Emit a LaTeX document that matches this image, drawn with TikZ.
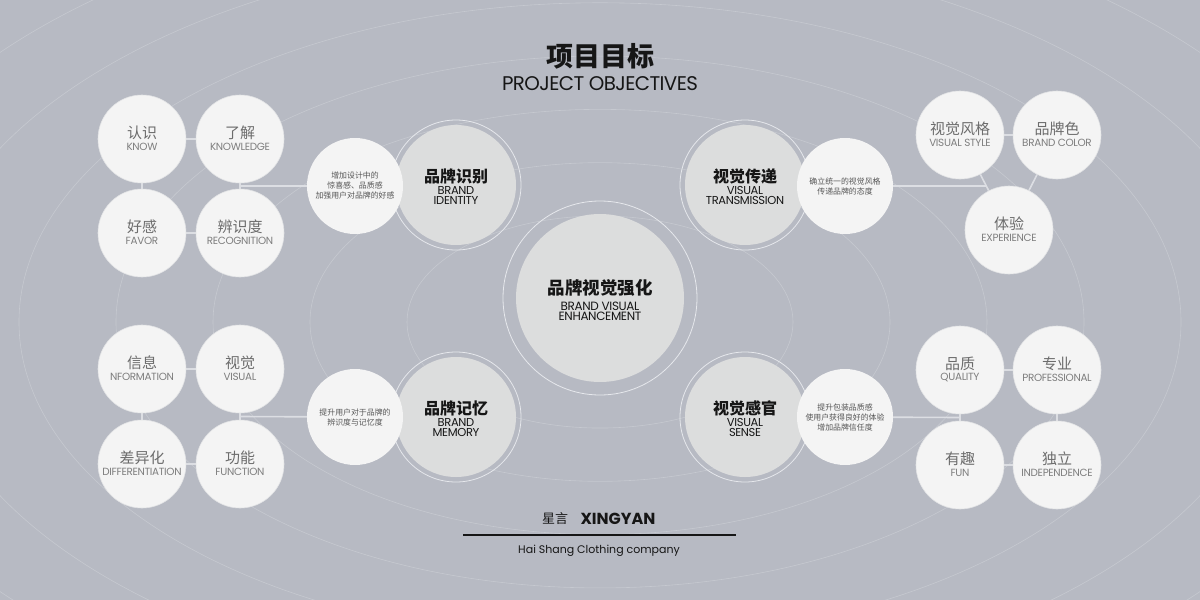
\documentclass[tikz,border=0pt]{standalone}
\usepackage{fontspec}
\setmainfont{Poppins}
\newfontfamily\cjk{Noto Sans CJK SC}
\newfontfamily\lat[LetterSpace=-3]{Poppins}
\usetikzlibrary{calc}
\definecolor{bgc}{HTML}{B7BAC3}
\definecolor{ellc}{HTML}{C6C9D0}
\definecolor{connc}{HTML}{DCDEE3}
\definecolor{smallfill}{HTML}{F4F4F4}
\definecolor{smalledge}{HTML}{E2E3E5}
\definecolor{bigfill}{HTML}{DCDDDD}
\definecolor{ringc}{HTML}{E6E8EC}
\definecolor{zhgray}{HTML}{6C6C6C}
\definecolor{engray}{HTML}{7E7E7E}
\definecolor{txtgray}{HTML}{555555}
\definecolor{dark}{HTML}{161616}
\pgfdeclarelayer{ellip}
\pgfdeclarelayer{links}
\pgfsetlayers{ellip,links,main}
\newcommand\scirc[5]{%
  \node[small] (#1) at (#2,#3) {};
  \node[zhs] (#1-zh) at ([yshift=6pt]#1.center) {#4};
  \node[ens] (#1-en) at ([yshift=-8pt]#1.center) {#5};}
\newcommand\bcirc[5]{%
  \node[big] (#1) at (#2,#3) {};
  \node[zhb] (#1-zh) at ([yshift=9pt]#1.center) {#4};
  \node[enb] (#1-en) at ([yshift=-10.5pt]#1.center) {#5};}
\begin{document}
\begin{tikzpicture}[x=1pt,y=-1pt,
  ell/.style={draw=ellc,line width=0.6pt},
  conn/.style={draw=connc,line width=1.6pt},
  small/.style={circle,fill=smallfill,draw=smalledge,line width=0.6pt,minimum size=88pt,inner sep=0pt},
  big/.style={circle,fill=bigfill,minimum size=120pt,inner sep=0pt},
  ringline/.style={draw=ringc,line width=0.8pt},
  txt/.style={circle,fill=smallfill,minimum size=96pt,inner sep=0pt,align=center,text=txtgray,font=\cjk\fontsize{7.9}{10}\selectfont},
  zhs/.style={inner sep=0pt,text=zhgray,font=\cjk\fontsize{15}{15}\selectfont},
  ens/.style={inner sep=0pt,text=engray,font=\lat\fontsize{10.4}{10.4}\selectfont},
  zhb/.style={inner sep=0pt,text=dark,font=\cjk\bfseries\fontsize{16}{16}\selectfont},
  enb/.style={inner sep=0pt,text=dark,align=center,font=\lat\fontsize{11.5}{9.5}\selectfont},
]
\useasboundingbox (0,0) rectangle (1200,600);
\begin{pgfonlayer}{ellip}
  \fill[bgc] (0,0) rectangle (1200,600);
  \begin{scope}
    \clip (0,0) rectangle (1200,600);
    \foreach \a in {193,290,387,484,581,678,775}{
      \pgfmathsetmacro\bb{\a/1.82}
      \draw[ell] (600,322) ellipse [x radius=\a pt, y radius=\bb pt];
    }
  \end{scope}
\end{pgfonlayer}

% title
\node[inner sep=0pt,text=dark,font=\cjk\bfseries\fontsize{27}{27}\selectfont] (title-zh) at (600,56) {项目目标};
\node[inner sep=0pt,text=dark,font=\lat\fontsize{19.8}{19.8}\selectfont] (title-en) at (600,84) {PROJECT OBJECTIVES};

% center
\node[circle,fill=bigfill,minimum size=168pt,inner sep=0pt] (center) at (600,298) {};
\draw[ringline] (center) circle[radius=97pt];
\node[inner sep=0pt,text=dark,font=\cjk\bfseries\fontsize{17.5}{17.5}\selectfont] (center-zh) at (600,288) {品牌视觉强化};
\node[inner sep=0pt,text=dark,align=center,font=\lat\fontsize{12}{10}\selectfont] (center-en) at (600,311) {BRAND VISUAL\\ENHANCEMENT};

% big circles
\bcirc{bi}{456}{185}{品牌识别}{BRAND\\IDENTITY}
\bcirc{vt}{745}{185}{视觉传递}{VISUAL\\TRANSMISSION}
\bcirc{bm}{456}{417}{品牌记忆}{BRAND\\MEMORY}
\bcirc{vs}{745}{417}{视觉感官}{VISUAL\\SENSE}
\foreach \n in {bi,vt,bm,vs}{\draw[ringline] (\n) circle[radius=65pt];}

% text circles
\node[txt] (t1) at (355,186) {增加设计中的\\惊喜感、品质感\\加强用户对品牌的好感};
\node[txt] (t2) at (845,186) {确立统一的视觉风格\\传递品牌的态度};
\node[txt] (t3) at (355,417) {提升用户对于品牌的\\辨识度与记忆度};
\node[txt] (t4) at (845,417) {提升包装品质感\\使用户获得良好的体验\\增加品牌信任度};

% small clusters
\scirc{know}{142}{139}{认识}{KNOW}
\scirc{knowl}{240}{139}{了解}{KNOWLEDGE}
\scirc{favor}{142}{233}{好感}{FAVOR}
\scirc{recog}{240}{233}{辨识度}{RECOGNITION}

\scirc{vstyle}{960}{135}{视觉风格}{VISUAL STYLE}
\scirc{bcolor}{1057}{135}{品牌色}{BRAND COLOR}
\scirc{exper}{1009}{230}{体验}{EXPERIENCE}

\scirc{info}{142}{369}{信息}{NFORMATION}
\scirc{visual}{240}{369}{视觉}{VISUAL}
\scirc{diff}{142}{464}{差异化}{DIFFERENTIATION}
\scirc{func}{240}{464}{功能}{FUNCTION}

\scirc{qual}{960}{370}{品质}{QUALITY}
\scirc{prof}{1057}{370}{专业}{PROFESSIONAL}
\scirc{fun}{960}{465}{有趣}{FUN}
\scirc{indep}{1057}{465}{独立}{INDEPENDENCE}

% connectors
\coordinate (m1) at ($(knowl)!0.5!(recog)$);
\coordinate (m2) at ($(vstyle)!0.537!(exper)$);
\coordinate (m3) at ($(visual)!0.5!(func)$);
\coordinate (m4) at ($(qual)!0.5!(fun)$);
\begin{pgfonlayer}{links}
  \draw[conn] (know) -- (knowl);
  \draw[conn] (know) -- (favor);
  \draw[conn] (knowl) -- (recog);
  \draw[conn] (favor) -- (recog);
  \draw[conn] (m1) -- (t1);
  \draw[conn] (vstyle) -- (bcolor);
  \draw[conn] (vstyle) -- (exper);
  \draw[conn] (bcolor) -- (exper);
  \draw[conn] (m2) -- (t2);
  \draw[conn] (info) -- (visual);
  \draw[conn] (info) -- (diff);
  \draw[conn] (visual) -- (func);
  \draw[conn] (diff) -- (func);
  \draw[conn] (m3) -- (t3);
  \draw[conn] (qual) -- (prof);
  \draw[conn] (qual) -- (fun);
  \draw[conn] (prof) -- (indep);
  \draw[conn] (fun) -- (indep);
  \draw[conn] (m4) -- (t4);
\end{pgfonlayer}

% footer
\node[inner sep=0pt,text=dark,font=\cjk\fontsize{13}{13}\selectfont] (foot-zh) at (555,519) {星言};
\node[inner sep=0pt,text=dark,font=\bfseries\fontsize{16}{16}\selectfont] (foot-en) at (618,519) {XINGYAN};
\coordinate (ruleL) at (463,535);
\coordinate (ruleR) at (736,535);
\draw[dark,line width=1.1pt] (ruleL) -- (ruleR);
\node[inner sep=0pt,text=dark,font=\fontsize{11}{11}\selectfont] (company) at (599,551) {Hai Shang Clothing company};
\end{tikzpicture}
\end{document}
